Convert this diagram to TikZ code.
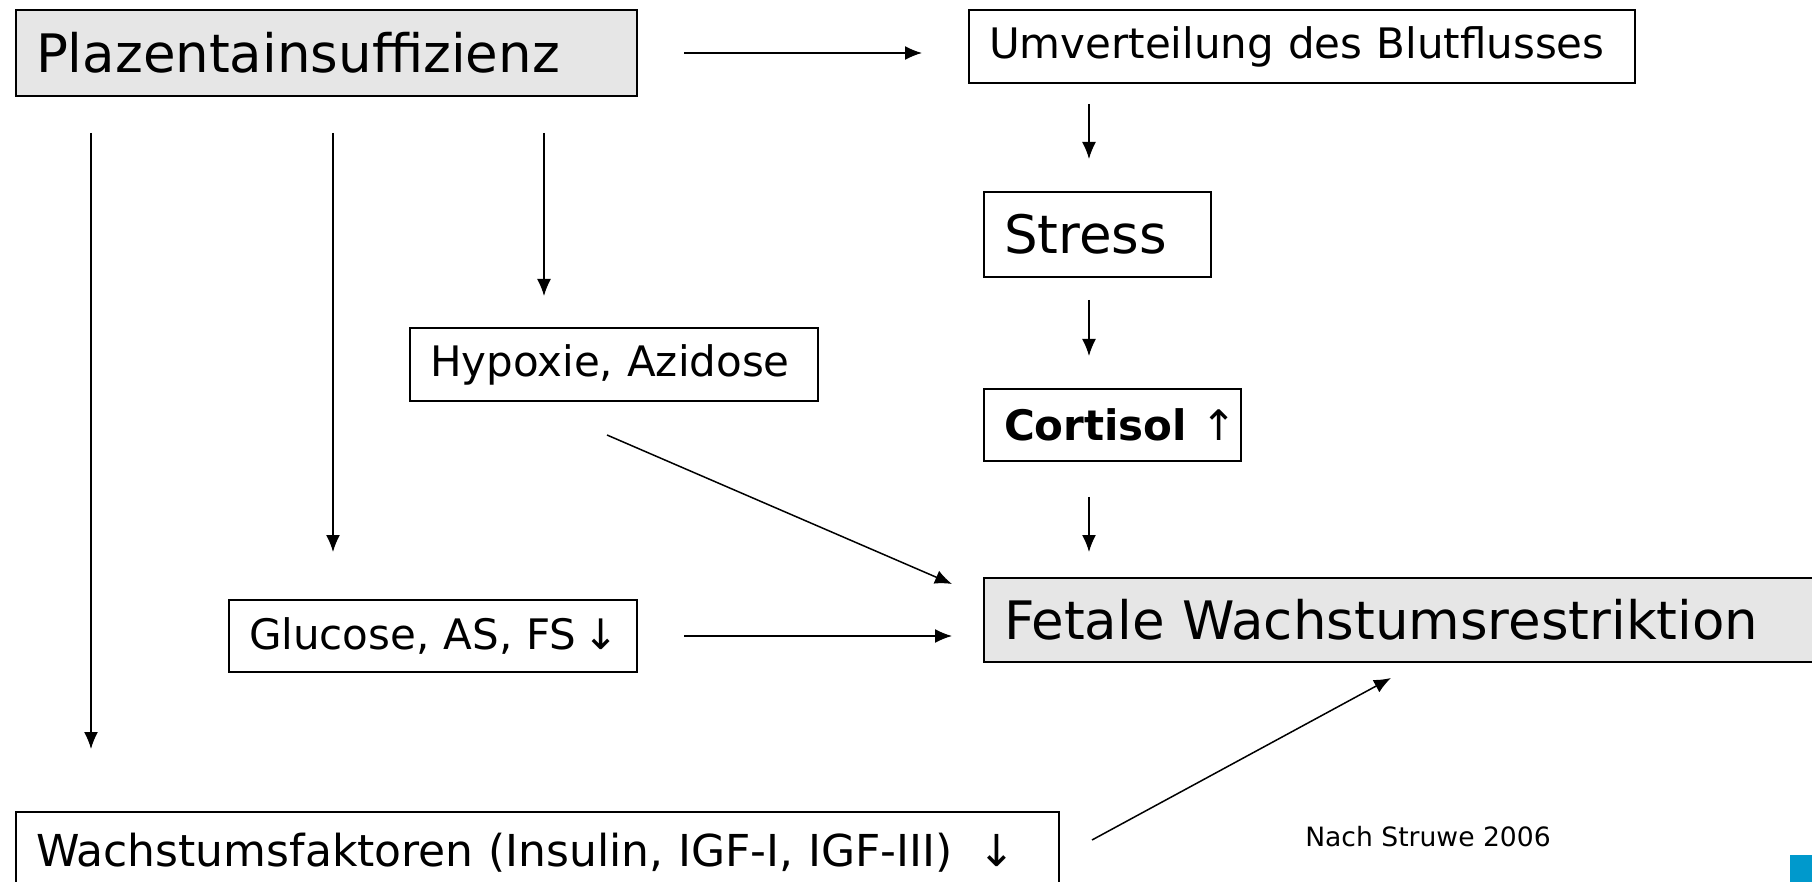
\documentclass[tikz,border=0pt]{standalone}
\usepackage{fontspec}
\setmainfont{DejaVu Sans}
\usetikzlibrary{arrows.meta}
\definecolor{boxgray}{HTML}{E6E6E6}
\definecolor{cornerblue}{HTML}{0099CC}
\tikzset{
    box/.style={draw, line width=1pt, anchor=north west, inner xsep=10pt, inner ysep=0pt, align=left},
    big/.style={font=\fontsize{26.5}{30}\selectfont},
    mid/.style={font=\fontsize{21}{25}\selectfont},
    arr/.style={line width=0.75pt, -{Latex[length=8.5pt,width=7pt]}}
}
\begin{document}
\begin{tikzpicture}[x=0.5pt, y=-0.5pt]
    \useasboundingbox (0,0) rectangle (1812,882);

    % Draw boxes on the left
    \node[box, big, fill=boxgray, text width=290.5pt, minimum height=43pt] (plaz) at (15,9) {Plazentainsuffizienz};
    \node[box, mid, text width=184pt, minimum height=36.5pt] (hyp) at (409,327) {Hypoxie, Azidose};
    \node[box, mid, text width=184pt, minimum height=36pt] (gluc) at (228,599) {\mbox{Glucose, AS, FS\,↓}};
    \node[box, mid, font=\fontsize{22}{25}\selectfont, text width=501.5pt, minimum height=41pt] (wachs) at (15,811) {\mbox{Wachstumsfaktoren (Insulin, IGF-I, IGF-III)\hspace{0.6em}↓}};

    % Draw boxes on the right
    \node[box, mid, text width=313pt, minimum height=36.5pt] (umv) at (968,9) {Umverteilung des Blutflusses};
    \node[box, big, text width=93.5pt, minimum height=42.5pt] (stress) at (983,191) {Stress};
    \node[box, mid, text width=108.5pt, minimum height=36pt] (cort) at (983,388) {\mbox{\textbf{Cortisol} ↑}};
    \node[box, big, fill=boxgray, text width=403.5pt, minimum height=42pt] (fetal) at (983,577) {Fetale Wachstumsrestriktion};

    % Source and corner mark
    \node[font=\fontsize{13.3}{16}\selectfont] (src) at (1428,837) {Nach Struwe 2006};
    \fill[cornerblue] (1790,855) rectangle (1812,882);

    % Draw arrows
    \draw[arr, shorten <=23pt, shorten >=23pt] (plaz.east) -- (plaz.east -| umv.west);
    \draw[arr, shorten <=10pt, shorten >=16pt] ([xshift=53pt]stress.north west |- umv.south) -- ([xshift=53pt]stress.north west);
    \draw[arr, shorten <=11pt, shorten >=16pt] ([xshift=53pt]stress.south west) -- ([xshift=53pt]cort.north west);
    \draw[arr, shorten <=17.5pt, shorten >=12.5pt] ([xshift=53pt]cort.south west) -- ([xshift=53pt]fetal.north west);
    \draw[arr, shorten <=18pt, shorten >=15.5pt] ([xshift=67.5pt]hyp.north west |- plaz.south) -- ([xshift=67.5pt]hyp.north west);
    \draw[arr, shorten <=18pt, shorten >=23.5pt] ([xshift=52.5pt]gluc.north west |- plaz.south) -- ([xshift=52.5pt]gluc.north west);
    \draw[arr, shorten <=18pt, shorten >=31pt] ([xshift=38pt]wachs.north west |- plaz.south) -- ([xshift=38pt]wachs.north west);
    \draw[arr] ([xshift=-3.5pt, yshift=-16.5pt]hyp.south) -- ([xshift=-15.5pt, yshift=-3.5pt]fetal.north west);
    \draw[arr, shorten <=23pt, shorten >=15.5pt] (gluc.east) -- (gluc.east -| fetal.west);
    \draw[arr] ([xshift=16pt, yshift=-14.5pt]wachs.north east) -- ([xshift=204pt, yshift=-7.5pt]fetal.south west);
\end{tikzpicture}
\end{document}
